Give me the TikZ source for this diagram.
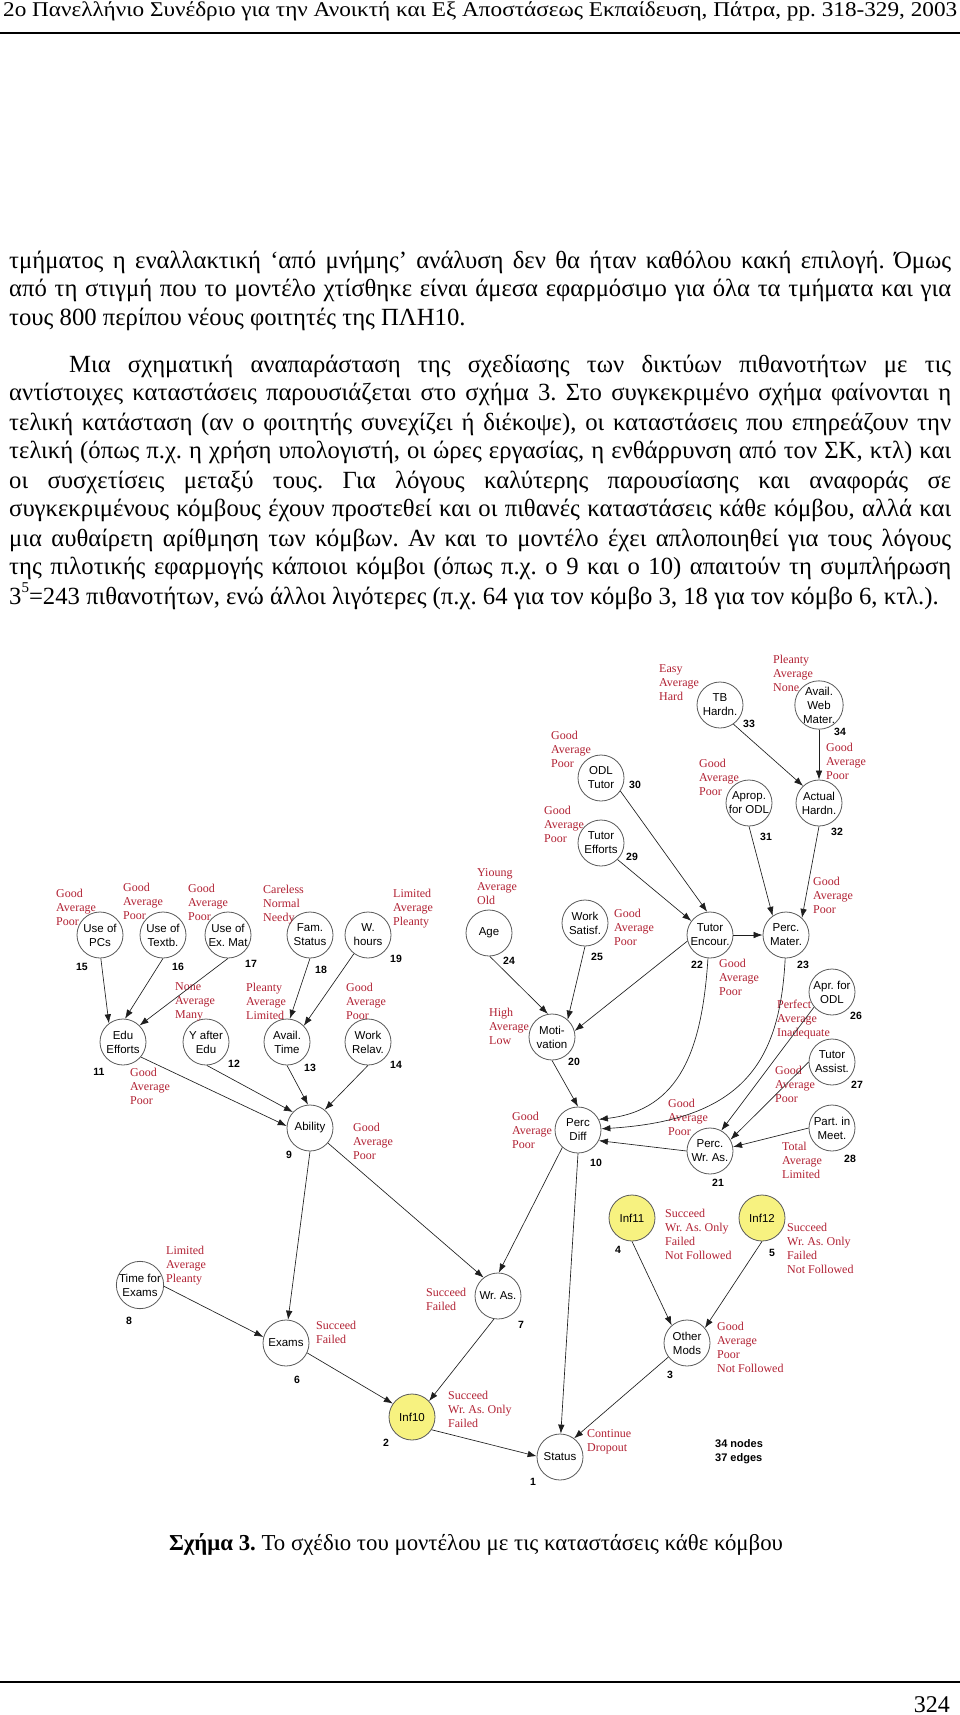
\documentclass[tikz,border=0pt]{standalone}
\usepackage{fontspec}
\setmainfont{Liberation Serif}
\newfontfamily\arialf{Liberation Sans}
\usetikzlibrary{arrows.meta}
\frenchspacing
\definecolor{stred}{RGB}{178,34,52}
\definecolor{infy}{RGB}{247,242,128}
\definecolor{edgec}{RGB}{30,30,30}
\definecolor{circc}{RGB}{90,90,90}
\newcommand{\stl}[4]{\node[stlab] (#1) at (#2,-#3) {\strut #4};}
\newcommand{\bline}[5]{\node[bodyl] (#1) at (#2,-#3) {\makebox[#4pt][s]{#5}};}
\newcommand{\nlab}[4]{\node[num] (#1) at (#2,-#3) {#4};}
\tikzset{
  bn/.style={circle, draw=circc, line width=0.8pt, minimum size=46pt, inner sep=0pt,
    font=\arialf\fontsize{11.5}{14}\selectfont, align=center, fill=white},
  inf/.style={bn, fill=infy},
  num/.style={font=\arialf\bfseries\fontsize{10.5}{12}\selectfont, inner sep=0pt},
  stlab/.style={anchor=north west, align=left, inner sep=0pt, text=stred,
    font=\fontsize{12}{14}\selectfont, yshift=5.8pt},
  edge/.style={draw=edgec, line width=0.65pt, -{Latex[length=9pt,width=6.5pt]}},
  bodyl/.style={anchor=base west, inner sep=0pt, font=\fontsize{24.7}{29}\selectfont},
}
\begin{document}
\begin{tikzpicture}[x=1pt,y=1pt]
\path[use as bounding box, fill=white] (0,0) rectangle (960,-1715);

% header
\node[anchor=base west, inner sep=0pt, font=\fontsize{21}{24}\selectfont] (hdr) at (3,-17)
  {\resizebox{954pt}{\height}{2ο Πανελλήνιο Συνέδριο για την Ανοικτή και Εξ Αποστάσεως Εκπαίδευση, Πάτρα, pp. 318-329, 2003}};
\coordinate (hrl) at (0,-33); \coordinate (hrr) at (960,-33);
\draw[line width=1.5pt] (hrl) -- (hrr);

% body text
\bline{l1}{9}{268}{942}{τμήματος η εναλλακτική ‘από μνήμης’ ανάλυση δεν θα ήταν καθόλου κακή επιλογή. Όμως}
\bline{l2}{9}{296}{942}{από τη στιγμή που το μοντέλο χτίσθηκε είναι άμεσα εφαρμόσιμο για όλα τα τμήματα και για}
\node[bodyl] (l3) at (9,-325) {τους 800 περίπου νέους φοιτητές της ΠΛΗ10.};
\bline{l4}{69}{372}{882}{Μια σχηματική αναπαράσταση της σχεδίασης των δικτύων πιθανοτήτων με τις}
\bline{l5}{9}{400}{942}{αντίστοιχες καταστάσεις παρουσιάζεται στο σχήμα 3. Στο συγκεκριμένο σχήμα φαίνονται η}
\bline{l6}{9}{430}{942}{τελική κατάσταση (αν ο φοιτητής συνεχίζει ή διέκοψε), οι καταστάσεις που επηρεάζουν την}
\bline{l7}{9}{458}{942}{τελική (όπως π.χ. η χρήση υπολογιστή, οι ώρες εργασίας, η ενθάρρυνση από τον ΣΚ, κτλ) και}
\bline{l8}{9}{488}{942}{οι συσχετίσεις μεταξύ τους. Για λόγους καλύτερης παρουσίασης και αναφοράς σε}
\bline{l9}{9}{516}{942}{συγκεκριμένους κόμβους έχουν προστεθεί και οι πιθανές καταστάσεις κάθε κόμβου, αλλά και}
\bline{l10}{9}{546}{942}{μια αυθαίρετη αρίθμηση των κόμβων. Αν και το μοντέλο έχει απλοποιηθεί για τους λόγους}
\bline{l11}{9}{574}{942}{της πιλοτικής εφαρμογής κάποιοι κόμβοι (όπως π.χ. ο 9 και ο 10) απαιτούν τη συμπλήρωση}
\node[bodyl] (l12) at (9,-604) {3\raisebox{0.45em}{\fontsize{15}{15}\selectfont 5}=243 πιθανοτήτων, ενώ άλλοι λιγότερες (π.χ. 64 για τον κόμβο 3, 18 για τον κόμβο 6, κτλ.).};

% nodes
\node[bn] (tb) at (720,-705) {TB\\Hardn.};
\node[bn] (awm) at (819,-705) {Avail.\\Web\\Mater.};
\node[bn] (ah) at (819,-803) {Actual\\Hardn.};
\node[bn] (aodl) at (749,-803) {Aprop.\\for ODL};
\node[bn] (odl) at (601,-778) {ODL\\Tutor};
\node[bn] (tef) at (601,-843) {Tutor\\Efforts};
\node[bn] (age) at (489,-933) {Age};
\node[bn] (ws) at (585,-923) {Work\\Satisf.};
\node[bn] (tenc) at (710,-935) {Tutor\\Encour.};
\node[bn] (pmat) at (786,-935) {Perc.\\Mater.};
\node[bn] (apr) at (832,-992) {Apr. for\\ODL};
\node[bn] (mot) at (552,-1037) {Moti-\\vation};
\node[bn] (tas) at (832,-1062) {Tutor\\Assist.};
\node[bn] (pdiff) at (578,-1130) {Perc\\Diff};
\node[bn] (pwr) at (710,-1151) {Perc.\\Wr. As.};
\node[bn] (pim) at (832,-1128) {Part. in\\Meet.};
\node[bn] (pcs) at (100,-935) {Use of\\PCs};
\node[bn] (tbk) at (163,-935) {Use of\\Textb.};
\node[bn] (exm) at (228,-935) {Use of\\Ex. Mat};
\node[bn] (fam) at (310,-935) {Fam.\\Status};
\node[bn] (wh) at (368,-935) {W.\\hours};
\node[bn] (edu) at (123,-1042) {Edu\\Efforts};
\node[bn] (yae) at (206,-1042) {Y after\\Edu};
\node[bn] (avt) at (287,-1042) {Avail.\\Time};
\node[bn] (wrel) at (368,-1042) {Work\\Relav.};
\node[bn] (abil) at (310,-1128) {Ability};
\node[bn] (tfe) at (140,-1285) {Time for\\Exams};
\node[bn] (exams) at (286,-1343) {Exams};
\node[bn] (wras) at (498,-1296) {Wr. As.};
\node[inf] (inf10) at (412,-1417) {Inf10};
\node[inf] (inf11) at (632,-1218) {Inf11};
\node[inf] (inf12) at (762,-1218) {Inf12};
\node[bn] (om) at (687,-1343) {Other\\Mods};
\node[bn] (status) at (560,-1457) {Status};

% numbers
\nlab{n33}{749}{724}{33} \nlab{n34}{840}{732}{34} \nlab{n32}{837}{832}{32}
\nlab{n31}{766}{837}{31} \nlab{n30}{635}{785}{30} \nlab{n29}{632}{857}{29}
\nlab{n15}{82}{967}{15} \nlab{n16}{178}{967}{16} \nlab{n17}{251}{964}{17}
\nlab{n18}{321}{970}{18} \nlab{n19}{396}{959}{19}
\nlab{n11}{99}{1072}{11} \nlab{n12}{234}{1064}{12} \nlab{n13}{310}{1068}{13}
\nlab{n14}{396}{1065}{14} \nlab{n9}{289}{1155}{9}
\nlab{n24}{509}{961}{24} \nlab{n25}{597}{957}{25} \nlab{n22}{697}{965}{22}
\nlab{n23}{803}{965}{23} \nlab{n26}{856}{1016}{26}
\nlab{n20}{574}{1062}{20} \nlab{n27}{857}{1085}{27} \nlab{n10}{596}{1163}{10}
\nlab{n21}{718}{1183}{21} \nlab{n28}{850}{1159}{28}
\nlab{n4}{618}{1250}{4} \nlab{n5}{772}{1253}{5} \nlab{n3}{670}{1375}{3}
\nlab{n7}{521}{1325}{7} \nlab{n8}{129}{1321}{8} \nlab{n6}{297}{1380}{6}
\nlab{n2}{386}{1443}{2} \nlab{n1}{533}{1482}{1}

% state labels
\stl{s33}{659}{668}{Easy\\Average\\Hard}
\stl{s34}{773}{659}{Pleanty\\Average\\None}
\stl{s32}{826}{747}{Good\\Average\\Poor}
\stl{s31}{699}{763}{Good\\Average\\Poor}
\stl{s30}{551}{735}{Good\\Average\\Poor}
\stl{s29}{544}{810}{Good\\Average\\Poor}
\stl{s15}{56}{893}{Good\\Average\\Poor}
\stl{s16}{123}{887}{Good\\Average\\Poor}
\stl{s17}{188}{888}{Good\\Average\\Poor}
\stl{s18}{263}{889}{Careless\\Normal\\Needy}
\stl{s19}{393}{893}{Limited\\Average\\Pleanty}
\stl{s12}{175}{986}{None\\Average\\Many}
\stl{s13}{246}{987}{Pleanty\\Average\\Limited}
\stl{s14}{346}{987}{Good\\Average\\Poor}
\stl{s11}{130}{1072}{Good\\Average\\Poor}
\stl{s9}{353}{1127}{Good\\Average\\Poor}
\stl{s24}{477}{872}{Yioung\\Average\\Old}
\stl{s25}{614}{913}{Good\\Average\\Poor}
\stl{s22}{719}{963}{Good\\Average\\Poor}
\stl{s23}{813}{881}{Good\\Average\\Poor}
\stl{s26}{777}{1004}{Perfect\\Average\\Inadequate}
\stl{s20}{489}{1012}{High\\Average\\Low}
\stl{s27}{775}{1070}{Good\\Average\\Poor}
\stl{s10}{512}{1116}{Good\\Average\\Poor}
\stl{s21}{668}{1103}{Good\\Average\\Poor}
\stl{s28}{782}{1146}{Total\\Average\\Limited}
\stl{s4}{665}{1213}{Succeed\\Wr. As. Only\\Failed\\Not Followed}
\stl{s5}{787}{1227}{Succeed\\Wr. As. Only\\Failed\\Not Followed}
\stl{s3}{717}{1326}{Good\\Average\\Poor\\Not Followed}
\stl{s8}{166}{1250}{Limited\\Average\\Pleanty}
\stl{s7}{426}{1292}{Succeed\\Failed}
\stl{s6}{316}{1325}{Succeed\\Failed}
\stl{s2}{448}{1395}{Succeed\\Wr. As. Only\\Failed}
\stl{s1}{587}{1433}{Continue\\Dropout}
\node[anchor=north west, align=left, inner sep=0pt, yshift=6.1pt,
  font=\arialf\bfseries\fontsize{11}{14.5}\selectfont] (cnt) at (715,-1443) {\strut 34 nodes\\37 edges};

% edges
\draw[edge] (tb.-55) -- (ah.133);
\draw[edge] (awm.-90) -- (ah.90);
\draw[edge] (ah.-90) -- (pmat.47);
\draw[edge] (aodl.-90) -- (pmat.125);
\draw[edge] (odl.-34) -- (tenc.97);
\draw[edge] (tef.-45) -- (tenc.143);
\draw[edge] (tenc.0) -- (pmat.180);
\draw[edge] (tenc.195) -- (mot.15);
\draw[edge] (age.-88) -- (mot.100);
\draw[edge] (ws.-90) -- (mot.48);
\draw[edge] (mot.-90) -- (pdiff.90);
\draw[edge] (tenc.-95) .. controls (702,-1050) and (680,-1110) .. (pdiff.27);
\draw[edge] (pmat.-92) .. controls (780,-1060) and (745,-1120) .. (pdiff.3);
\draw[edge] (pwr.180) -- (pdiff.-27);
\draw[edge] (apr.220) -- (pwr.61);
\draw[edge] (tas.180) -- (pwr.29);
\draw[edge] (pim.180) -- (pwr.10);
\draw[edge] (pcs.-88) -- (edu.127);
\draw[edge] (tbk.-90) -- (edu.85);
\draw[edge] (exm.-90) -- (edu.45);
\draw[edge] (fam.-90) -- (avt.83);
\draw[edge] (wh.-127) -- (avt.44);
\draw[edge] (edu.-40) -- (abil.175);
\draw[edge] (yae.-88) -- (abil.137);
\draw[edge] (avt.-90) -- (abil.95);
\draw[edge] (wrel.-90) -- (abil.51);
\draw[edge] (abil.-90) -- (exams.85);
\draw[edge] (abil.-40) -- (wras.128);
\draw[edge] (pdiff.-132) -- (wras.88);
\draw[edge] (pdiff.-90) -- (status.88);
\draw[edge] (tfe.-3) -- (exams.165);
\draw[edge] (exams.-25) -- (inf10.145);
\draw[edge] (wras.-100) -- (inf10.43);
\draw[edge] (inf10.-33) -- (status.178);
\draw[edge] (om.217) -- (status.53);
\draw[edge] (inf11.-90) -- (om.131);
\draw[edge] (inf12.-90) -- (om.40);

% caption and footer
\node[anchor=base, inner sep=0pt, font=\fontsize{22.8}{26}\selectfont] (cap) at (476,-1550)
  {\textbf{Σχήμα 3.} Το σχέδιο του μοντέλου με τις καταστάσεις κάθε κόμβου};
\coordinate (frl) at (0,-1682); \coordinate (frr) at (960,-1682);
\draw[line width=1.5pt] (frl) -- (frr);
\node[anchor=base east, inner sep=0pt, font=\fontsize{24}{28}\selectfont] (pg) at (950,-1712) {324};
\end{tikzpicture}
\end{document}
